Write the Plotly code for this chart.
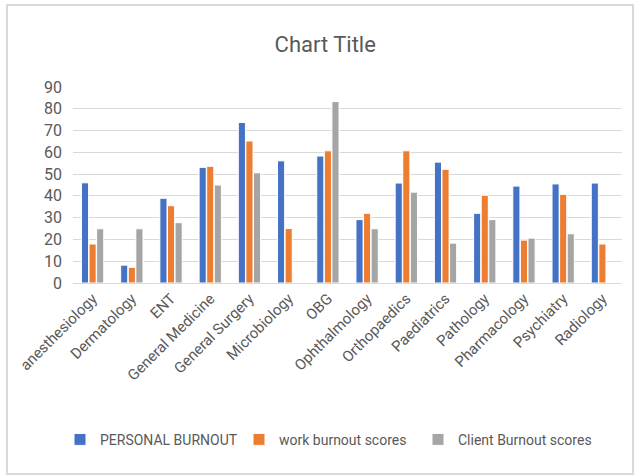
import plotly.graph_objects as go

categories = ["anesthesiology", "Dermatology", "ENT", "General Medicine", "General Surgery",
              "Microbiology", "OBG", "Ophthalmology", "Orthopaedics", "Paediatrics",
              "Pathology", "Pharmacology", "Psychiatry", "Radiology"]
personal = [46, 8.2, 38.9, 53.1, 73.7, 56.1, 58.3, 29.1, 45.9, 55.5, 32, 44.5, 45.5, 45.9]
work = [17.9, 7.2, 35.5, 53.6, 65.2, 25, 60.7, 32, 60.7, 52.2, 40.3, 19.7, 40.7, 17.9]
client = [24.9, 24.9, 27.7, 45, 50.6, 0, 83.3, 24.9, 41.7, 18.3, 29.1, 20.6, 22.6, 0]

series = [("PERSONAL BURNOUT", personal, "#4472C4"),
          ("work burnout scores", work, "#ED7D31"),
          ("Client Burnout scores", client, "#A5A5A5")]

fig = go.Figure()
for name, vals, col in series:
    fig.add_trace(go.Bar(x=categories, y=vals, name=name,
                         marker=dict(color=col, line=dict(color="white", width=1))))

font_fam = "Roboto, 'Open Sans', sans-serif"
fig.update_layout(
    width=634, height=476,
    margin=dict(l=73, r=12, t=87, b=193),
    paper_bgcolor="white", plot_bgcolor="white",
    barmode="group", bargap=0.42, bargroupgap=0.06,
    title=dict(text="Chart Title", x=0.513, xanchor="center", y=1 - 44 / 476, yanchor="middle",
               font=dict(family=font_fam, size=22, color="#595959")),
    font=dict(family=font_fam, color="#595959"),
    showlegend=True,
    legend=dict(orientation="h", x=(60 - 73) / 549, xanchor="left", y=-0.80, yanchor="middle",
                font=dict(size=14, color="#595959"), itemwidth=30, traceorder="normal",
                entrywidth=134, entrywidthmode="pixels"),
    xaxis=dict(tickangle=-45, tickfont=dict(size=15, color="#595959"), showline=True,
               linecolor="#d9d9d9", linewidth=1, ticks=""),
    yaxis=dict(range=[0, 90], dtick=10, showgrid=True, gridcolor="#d9d9d9", gridwidth=1,
               tickfont=dict(size=16, color="#595959"), zeroline=False, ticks="",
               ticklabelstandoff=10),
)
fig.add_shape(type="rect", xref="paper", yref="paper",
              x0=(7 - 73) / 549, x1=(633 - 73) / 549,
              y0=(283 - 474) / 196, y1=(283 - 5) / 196,
              line=dict(color="#d9d9d9", width=2), fillcolor="rgba(0,0,0,0)", layer="below")
fig.write_html("out.html")
